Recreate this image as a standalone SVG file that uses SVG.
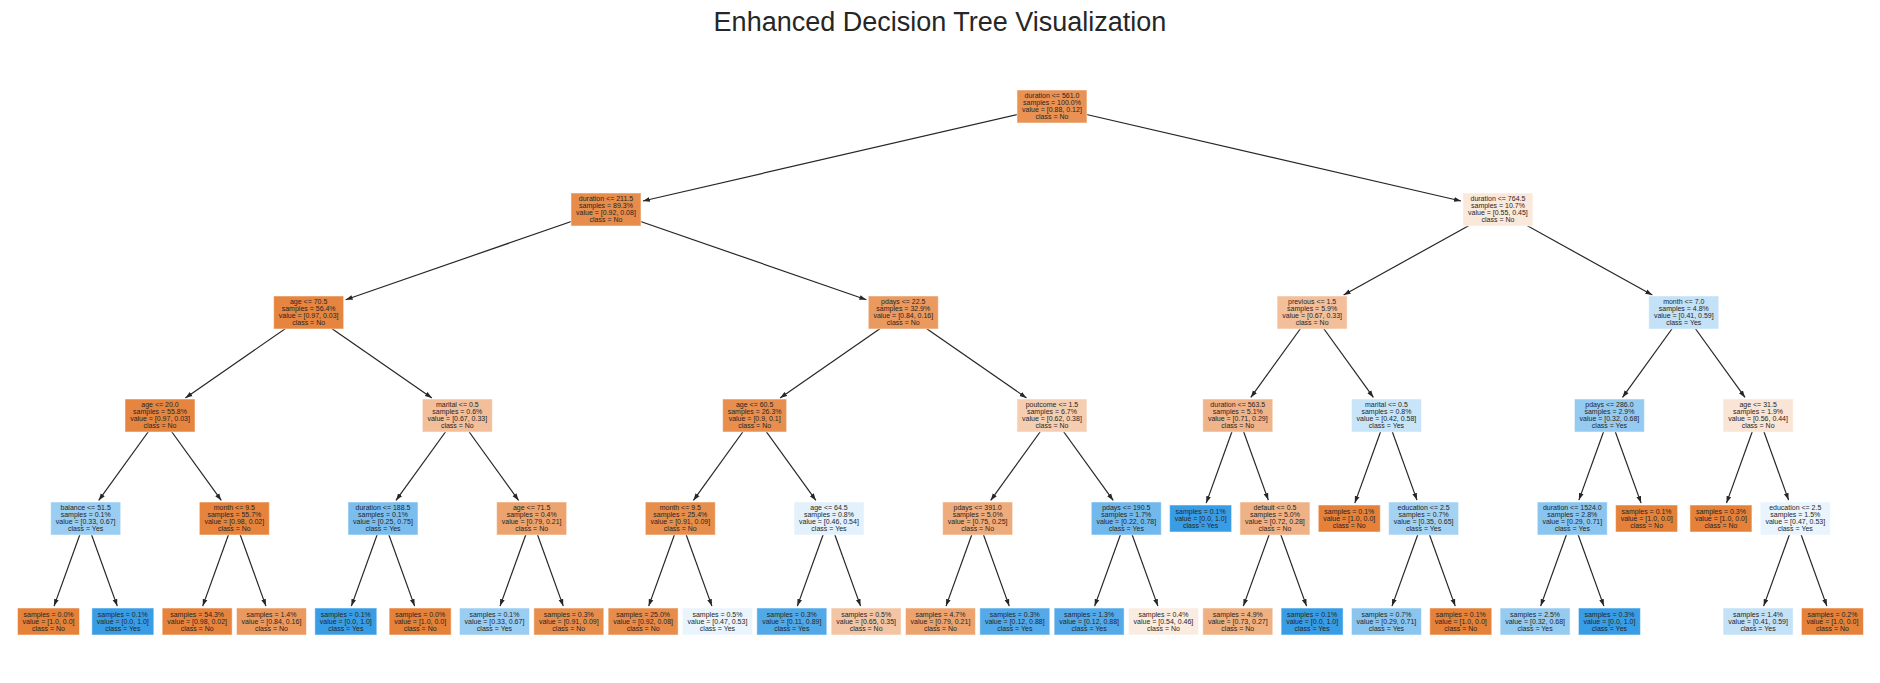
<svg xmlns="http://www.w3.org/2000/svg" width="1880" height="683" viewBox="0 0 1880 683">
<style>
.t{font-family:"Liberation Sans",Arial,sans-serif;font-size:7px;fill:#262626;text-anchor:middle}
.title{font-family:"Liberation Sans",Arial,sans-serif;font-size:27px;fill:#262626;text-anchor:middle}
.b{stroke:#ffffff;stroke-opacity:0.5;stroke-width:1}
.e line{stroke:#262626;stroke-width:1.2;marker-end:url(#ah)}
</style>
<defs>
<marker id="ah" markerUnits="userSpaceOnUse" markerWidth="8" markerHeight="6" refX="7" refY="3" orient="auto"><path d="M0,0.6 L7,3 L0,5.4 z" fill="#262626"/></marker>
</defs>
<rect width="1880" height="683" fill="#ffffff"/>
<text class="title" x="940" y="31">Enhanced Decision Tree Visualization</text>
<g id="connectors" class="e">
<line x1="1051.96" y1="106.5" x2="642.9" y2="201.0"/>
<line x1="1051.96" y1="106.5" x2="1461.0" y2="201.0"/>
<line x1="605.98" y1="209.5" x2="345.6" y2="299.7"/>
<line x1="605.98" y1="209.5" x2="866.4" y2="299.7"/>
<line x1="1497.94" y1="209.5" x2="1343.6" y2="295.0"/>
<line x1="1497.94" y1="209.5" x2="1652.3" y2="295.0"/>
<line x1="308.66" y1="312.5" x2="185.4" y2="397.9"/>
<line x1="308.66" y1="312.5" x2="431.9" y2="397.9"/>
<line x1="903.3" y1="312.5" x2="780.1" y2="397.9"/>
<line x1="903.3" y1="312.5" x2="1026.5" y2="397.9"/>
<line x1="1312.11" y1="312.5" x2="1250.8" y2="397.4"/>
<line x1="1312.11" y1="312.5" x2="1373.4" y2="397.4"/>
<line x1="1683.76" y1="312.5" x2="1622.5" y2="397.4"/>
<line x1="1683.76" y1="312.5" x2="1745.0" y2="397.4"/>
<line x1="160" y1="415.5" x2="98.7" y2="500.4"/>
<line x1="160" y1="415.5" x2="221.3" y2="500.4"/>
<line x1="457.32" y1="415.5" x2="396.0" y2="500.4"/>
<line x1="457.32" y1="415.5" x2="518.6" y2="500.4"/>
<line x1="754.64" y1="415.5" x2="693.4" y2="500.4"/>
<line x1="754.64" y1="415.5" x2="815.9" y2="500.4"/>
<line x1="1051.96" y1="415.5" x2="990.7" y2="500.4"/>
<line x1="1051.96" y1="415.5" x2="1113.2" y2="500.4"/>
<line x1="1237.78" y1="415.5" x2="1206.2" y2="503.1"/>
<line x1="1237.78" y1="415.5" x2="1268.3" y2="500.1"/>
<line x1="1386.44" y1="415.5" x2="1354.8" y2="503.1"/>
<line x1="1386.44" y1="415.5" x2="1417.0" y2="500.1"/>
<line x1="1609.43" y1="415.5" x2="1578.9" y2="500.1"/>
<line x1="1609.43" y1="415.5" x2="1641.1" y2="503.1"/>
<line x1="1758.09" y1="415.5" x2="1726.5" y2="503.1"/>
<line x1="1758.09" y1="415.5" x2="1788.6" y2="500.1"/>
<line x1="85.67" y1="518.5" x2="54.05" y2="606.1"/>
<line x1="85.67" y1="518.5" x2="117.28" y2="606.1"/>
<line x1="234.33" y1="518.5" x2="202.71" y2="606.1"/>
<line x1="234.33" y1="518.5" x2="265.94" y2="606.1"/>
<line x1="382.99" y1="518.5" x2="351.37" y2="606.1"/>
<line x1="382.99" y1="518.5" x2="414.6" y2="606.1"/>
<line x1="531.65" y1="518.5" x2="500.03" y2="606.1"/>
<line x1="531.65" y1="518.5" x2="563.26" y2="606.1"/>
<line x1="680.31" y1="518.5" x2="648.69" y2="606.1"/>
<line x1="680.31" y1="518.5" x2="711.92" y2="606.1"/>
<line x1="828.97" y1="518.5" x2="797.35" y2="606.1"/>
<line x1="828.97" y1="518.5" x2="860.58" y2="606.1"/>
<line x1="977.63" y1="518.5" x2="946.01" y2="606.1"/>
<line x1="977.63" y1="518.5" x2="1009.24" y2="606.1"/>
<line x1="1126.29" y1="518.5" x2="1094.67" y2="606.1"/>
<line x1="1126.29" y1="518.5" x2="1157.9" y2="606.1"/>
<line x1="1274.95" y1="518.5" x2="1243.33" y2="606.1"/>
<line x1="1274.95" y1="518.5" x2="1306.56" y2="606.1"/>
<line x1="1423.61" y1="518.5" x2="1391.99" y2="606.1"/>
<line x1="1423.61" y1="518.5" x2="1455.22" y2="606.1"/>
<line x1="1572.27" y1="518.5" x2="1540.65" y2="606.1"/>
<line x1="1572.27" y1="518.5" x2="1603.88" y2="606.1"/>
<line x1="1795.26" y1="518.5" x2="1763.64" y2="606.1"/>
<line x1="1795.26" y1="518.5" x2="1826.87" y2="606.1"/>
</g>
<g id="n0" transform="translate(1051.96,106.5)"><rect class="b" x="-35" y="-16.5" width="70" height="33" fill="#e99254"/><text class="t"><tspan x="0" y="-8.5">duration &lt;= 561.0</tspan><tspan x="0" y="-1.5">samples = 100.0%</tspan><tspan x="0" y="5.5">value = [0.88, 0.12]</tspan><tspan x="0" y="12.5">class = No</tspan></text></g>
<g id="n1" transform="translate(605.98,209.5)"><rect class="b" x="-35" y="-16.5" width="70" height="33" fill="#e78c4a"/><text class="t"><tspan x="0" y="-8.5">duration &lt;= 211.5</tspan><tspan x="0" y="-1.5">samples = 89.3%</tspan><tspan x="0" y="5.5">value = [0.92, 0.08]</tspan><tspan x="0" y="12.5">class = No</tspan></text></g>
<g id="n2" transform="translate(1497.94,209.5)"><rect class="b" x="-35" y="-16.5" width="70" height="33" fill="#fae8db"/><text class="t"><tspan x="0" y="-8.5">duration &lt;= 764.5</tspan><tspan x="0" y="-1.5">samples = 10.7%</tspan><tspan x="0" y="5.5">value = [0.55, 0.45]</tspan><tspan x="0" y="12.5">class = No</tspan></text></g>
<g id="n3" transform="translate(308.66,312.5)"><rect class="b" x="-35" y="-16.5" width="70" height="33" fill="#e6853f"/><text class="t"><tspan x="0" y="-8.5">age &lt;= 70.5</tspan><tspan x="0" y="-1.5">samples = 56.4%</tspan><tspan x="0" y="5.5">value = [0.97, 0.03]</tspan><tspan x="0" y="12.5">class = No</tspan></text></g>
<g id="n4" transform="translate(903.3,312.5)"><rect class="b" x="-35" y="-16.5" width="70" height="33" fill="#ea995f"/><text class="t"><tspan x="0" y="-8.5">pdays &lt;= 22.5</tspan><tspan x="0" y="-1.5">samples = 32.9%</tspan><tspan x="0" y="5.5">value = [0.84, 0.16]</tspan><tspan x="0" y="12.5">class = No</tspan></text></g>
<g id="n5" transform="translate(1312.11,312.5)"><rect class="b" x="-35" y="-16.5" width="70" height="33" fill="#f2bf9a"/><text class="t"><tspan x="0" y="-8.5">previous &lt;= 1.5</tspan><tspan x="0" y="-1.5">samples = 5.9%</tspan><tspan x="0" y="5.5">value = [0.67, 0.33]</tspan><tspan x="0" y="12.5">class = No</tspan></text></g>
<g id="n6" transform="translate(1683.76,312.5)"><rect class="b" x="-35" y="-16.5" width="70" height="33" fill="#c3e1f7"/><text class="t"><tspan x="0" y="-8.5">month &lt;= 7.0</tspan><tspan x="0" y="-1.5">samples = 4.8%</tspan><tspan x="0" y="5.5">value = [0.41, 0.59]</tspan><tspan x="0" y="12.5">class = Yes</tspan></text></g>
<g id="n7" transform="translate(160,415.5)"><rect class="b" x="-35" y="-16.5" width="70" height="33" fill="#e6853f"/><text class="t"><tspan x="0" y="-8.5">age &lt;= 20.0</tspan><tspan x="0" y="-1.5">samples = 55.8%</tspan><tspan x="0" y="5.5">value = [0.97, 0.03]</tspan><tspan x="0" y="12.5">class = No</tspan></text></g>
<g id="n8" transform="translate(457.32,415.5)"><rect class="b" x="-35" y="-16.5" width="70" height="33" fill="#f2bf9a"/><text class="t"><tspan x="0" y="-8.5">marital &lt;= 0.5</tspan><tspan x="0" y="-1.5">samples = 0.6%</tspan><tspan x="0" y="5.5">value = [0.67, 0.33]</tspan><tspan x="0" y="12.5">class = No</tspan></text></g>
<g id="n9" transform="translate(754.64,415.5)"><rect class="b" x="-32" y="-16.5" width="64" height="33" fill="#e88f4f"/><text class="t"><tspan x="0" y="-8.5">age &lt;= 60.5</tspan><tspan x="0" y="-1.5">samples = 26.3%</tspan><tspan x="0" y="5.5">value = [0.9, 0.1]</tspan><tspan x="0" y="12.5">class = No</tspan></text></g>
<g id="n10" transform="translate(1051.96,415.5)"><rect class="b" x="-35" y="-16.5" width="70" height="33" fill="#f5ceb2"/><text class="t"><tspan x="0" y="-8.5">poutcome &lt;= 1.5</tspan><tspan x="0" y="-1.5">samples = 6.7%</tspan><tspan x="0" y="5.5">value = [0.62, 0.38]</tspan><tspan x="0" y="12.5">class = No</tspan></text></g>
<g id="n11" transform="translate(1237.78,415.5)"><rect class="b" x="-35" y="-16.5" width="70" height="33" fill="#f0b48a"/><text class="t"><tspan x="0" y="-8.5">duration &lt;= 563.5</tspan><tspan x="0" y="-1.5">samples = 5.1%</tspan><tspan x="0" y="5.5">value = [0.71, 0.29]</tspan><tspan x="0" y="12.5">class = No</tspan></text></g>
<g id="n12" transform="translate(1386.44,415.5)"><rect class="b" x="-35" y="-16.5" width="70" height="33" fill="#c8e4f8"/><text class="t"><tspan x="0" y="-8.5">marital &lt;= 0.5</tspan><tspan x="0" y="-1.5">samples = 0.8%</tspan><tspan x="0" y="5.5">value = [0.42, 0.58]</tspan><tspan x="0" y="12.5">class = Yes</tspan></text></g>
<g id="n13" transform="translate(1609.43,415.5)"><rect class="b" x="-35" y="-16.5" width="70" height="33" fill="#96cbf1"/><text class="t"><tspan x="0" y="-8.5">pdays &lt;= 286.0</tspan><tspan x="0" y="-1.5">samples = 2.9%</tspan><tspan x="0" y="5.5">value = [0.32, 0.68]</tspan><tspan x="0" y="12.5">class = Yes</tspan></text></g>
<g id="n14" transform="translate(1758.09,415.5)"><rect class="b" x="-35" y="-16.5" width="70" height="33" fill="#f9e4d5"/><text class="t"><tspan x="0" y="-8.5">age &lt;= 31.5</tspan><tspan x="0" y="-1.5">samples = 1.9%</tspan><tspan x="0" y="5.5">value = [0.56, 0.44]</tspan><tspan x="0" y="12.5">class = No</tspan></text></g>
<g id="n15" transform="translate(85.67,518.5)"><rect class="b" x="-35" y="-16.5" width="70" height="33" fill="#9acdf2"/><text class="t"><tspan x="0" y="-8.5">balance &lt;= 51.5</tspan><tspan x="0" y="-1.5">samples = 0.1%</tspan><tspan x="0" y="5.5">value = [0.33, 0.67]</tspan><tspan x="0" y="12.5">class = Yes</tspan></text></g>
<g id="n16" transform="translate(234.33,518.5)"><rect class="b" x="-35" y="-16.5" width="70" height="33" fill="#e6843d"/><text class="t"><tspan x="0" y="-8.5">month &lt;= 9.5</tspan><tspan x="0" y="-1.5">samples = 55.7%</tspan><tspan x="0" y="5.5">value = [0.98, 0.02]</tspan><tspan x="0" y="12.5">class = No</tspan></text></g>
<g id="n17" transform="translate(382.99,518.5)"><rect class="b" x="-35" y="-16.5" width="70" height="33" fill="#7bbeee"/><text class="t"><tspan x="0" y="-8.5">duration &lt;= 188.5</tspan><tspan x="0" y="-1.5">samples = 0.1%</tspan><tspan x="0" y="5.5">value = [0.25, 0.75]</tspan><tspan x="0" y="12.5">class = Yes</tspan></text></g>
<g id="n18" transform="translate(531.65,518.5)"><rect class="b" x="-35" y="-16.5" width="70" height="33" fill="#eca36e"/><text class="t"><tspan x="0" y="-8.5">age &lt;= 71.5</tspan><tspan x="0" y="-1.5">samples = 0.4%</tspan><tspan x="0" y="5.5">value = [0.79, 0.21]</tspan><tspan x="0" y="12.5">class = No</tspan></text></g>
<g id="n19" transform="translate(680.31,518.5)"><rect class="b" x="-35" y="-16.5" width="70" height="33" fill="#e88e4d"/><text class="t"><tspan x="0" y="-8.5">month &lt;= 9.5</tspan><tspan x="0" y="-1.5">samples = 25.4%</tspan><tspan x="0" y="5.5">value = [0.91, 0.09]</tspan><tspan x="0" y="12.5">class = No</tspan></text></g>
<g id="n20" transform="translate(828.97,518.5)"><rect class="b" x="-35" y="-16.5" width="70" height="33" fill="#e2f1fb"/><text class="t"><tspan x="0" y="-8.5">age &lt;= 64.5</tspan><tspan x="0" y="-1.5">samples = 0.8%</tspan><tspan x="0" y="5.5">value = [0.46, 0.54]</tspan><tspan x="0" y="12.5">class = Yes</tspan></text></g>
<g id="n21" transform="translate(977.63,518.5)"><rect class="b" x="-35" y="-16.5" width="70" height="33" fill="#eeab7b"/><text class="t"><tspan x="0" y="-8.5">pdays &lt;= 391.0</tspan><tspan x="0" y="-1.5">samples = 5.0%</tspan><tspan x="0" y="5.5">value = [0.75, 0.25]</tspan><tspan x="0" y="12.5">class = No</tspan></text></g>
<g id="n22" transform="translate(1126.29,518.5)"><rect class="b" x="-35" y="-16.5" width="70" height="33" fill="#71b9ec"/><text class="t"><tspan x="0" y="-8.5">pdays &lt;= 190.5</tspan><tspan x="0" y="-1.5">samples = 1.7%</tspan><tspan x="0" y="5.5">value = [0.22, 0.78]</tspan><tspan x="0" y="12.5">class = Yes</tspan></text></g>
<g id="n23" transform="translate(1200.62,518.5)"><rect class="b" x="-31" y="-13.5" width="62" height="27" fill="#399de5"/><text class="t"><tspan x="0" y="-5">samples = 0.1%</tspan><tspan x="0" y="2">value = [0.0, 1.0]</tspan><tspan x="0" y="9">class = Yes</tspan></text></g>
<g id="n24" transform="translate(1274.95,518.5)"><rect class="b" x="-35" y="-16.5" width="70" height="33" fill="#efb286"/><text class="t"><tspan x="0" y="-8.5">default &lt;= 0.5</tspan><tspan x="0" y="-1.5">samples = 5.0%</tspan><tspan x="0" y="5.5">value = [0.72, 0.28]</tspan><tspan x="0" y="12.5">class = No</tspan></text></g>
<g id="n25" transform="translate(1349.28,518.5)"><rect class="b" x="-31" y="-13.5" width="62" height="27" fill="#e58139"/><text class="t"><tspan x="0" y="-5">samples = 0.1%</tspan><tspan x="0" y="2">value = [1.0, 0.0]</tspan><tspan x="0" y="9">class = No</tspan></text></g>
<g id="n26" transform="translate(1423.61,518.5)"><rect class="b" x="-35" y="-16.5" width="70" height="33" fill="#a4d2f3"/><text class="t"><tspan x="0" y="-8.5">education &lt;= 2.5</tspan><tspan x="0" y="-1.5">samples = 0.7%</tspan><tspan x="0" y="5.5">value = [0.35, 0.65]</tspan><tspan x="0" y="12.5">class = Yes</tspan></text></g>
<g id="n27" transform="translate(1572.27,518.5)"><rect class="b" x="-35" y="-16.5" width="70" height="33" fill="#8ac5f0"/><text class="t"><tspan x="0" y="-8.5">duration &lt;= 1524.0</tspan><tspan x="0" y="-1.5">samples = 2.8%</tspan><tspan x="0" y="5.5">value = [0.29, 0.71]</tspan><tspan x="0" y="12.5">class = Yes</tspan></text></g>
<g id="n28" transform="translate(1646.6,518.5)"><rect class="b" x="-31" y="-13.5" width="62" height="27" fill="#e58139"/><text class="t"><tspan x="0" y="-5">samples = 0.1%</tspan><tspan x="0" y="2">value = [1.0, 0.0]</tspan><tspan x="0" y="9">class = No</tspan></text></g>
<g id="n29" transform="translate(1720.93,518.5)"><rect class="b" x="-31" y="-13.5" width="62" height="27" fill="#e58139"/><text class="t"><tspan x="0" y="-5">samples = 0.3%</tspan><tspan x="0" y="2">value = [1.0, 0.0]</tspan><tspan x="0" y="9">class = No</tspan></text></g>
<g id="n30" transform="translate(1795.26,518.5)"><rect class="b" x="-35" y="-16.5" width="70" height="33" fill="#e9f4fc"/><text class="t"><tspan x="0" y="-8.5">education &lt;= 2.5</tspan><tspan x="0" y="-1.5">samples = 1.5%</tspan><tspan x="0" y="5.5">value = [0.47, 0.53]</tspan><tspan x="0" y="12.5">class = Yes</tspan></text></g>
<g id="l1" transform="translate(48.5,621.5)"><rect class="b" x="-31" y="-13.5" width="62" height="27" fill="#e58139"/><text class="t"><tspan x="0" y="-5">samples = 0.0%</tspan><tspan x="0" y="2">value = [1.0, 0.0]</tspan><tspan x="0" y="9">class = No</tspan></text></g>
<g id="l2" transform="translate(122.83,621.5)"><rect class="b" x="-31" y="-13.5" width="62" height="27" fill="#399de5"/><text class="t"><tspan x="0" y="-5">samples = 0.1%</tspan><tspan x="0" y="2">value = [0.0, 1.0]</tspan><tspan x="0" y="9">class = Yes</tspan></text></g>
<g id="l3" transform="translate(197.16,621.5)"><rect class="b" x="-35" y="-13.5" width="70" height="27" fill="#e6843d"/><text class="t"><tspan x="0" y="-5">samples = 54.3%</tspan><tspan x="0" y="2">value = [0.98, 0.02]</tspan><tspan x="0" y="9">class = No</tspan></text></g>
<g id="l4" transform="translate(271.49,621.5)"><rect class="b" x="-35" y="-13.5" width="70" height="27" fill="#ea995f"/><text class="t"><tspan x="0" y="-5">samples = 1.4%</tspan><tspan x="0" y="2">value = [0.84, 0.16]</tspan><tspan x="0" y="9">class = No</tspan></text></g>
<g id="l5" transform="translate(345.82,621.5)"><rect class="b" x="-31" y="-13.5" width="62" height="27" fill="#399de5"/><text class="t"><tspan x="0" y="-5">samples = 0.1%</tspan><tspan x="0" y="2">value = [0.0, 1.0]</tspan><tspan x="0" y="9">class = Yes</tspan></text></g>
<g id="l6" transform="translate(420.15,621.5)"><rect class="b" x="-31" y="-13.5" width="62" height="27" fill="#e58139"/><text class="t"><tspan x="0" y="-5">samples = 0.0%</tspan><tspan x="0" y="2">value = [1.0, 0.0]</tspan><tspan x="0" y="9">class = No</tspan></text></g>
<g id="l7" transform="translate(494.48,621.5)"><rect class="b" x="-35" y="-13.5" width="70" height="27" fill="#9acdf2"/><text class="t"><tspan x="0" y="-5">samples = 0.1%</tspan><tspan x="0" y="2">value = [0.33, 0.67]</tspan><tspan x="0" y="9">class = Yes</tspan></text></g>
<g id="l8" transform="translate(568.81,621.5)"><rect class="b" x="-35" y="-13.5" width="70" height="27" fill="#e88e4d"/><text class="t"><tspan x="0" y="-5">samples = 0.3%</tspan><tspan x="0" y="2">value = [0.91, 0.09]</tspan><tspan x="0" y="9">class = No</tspan></text></g>
<g id="l9" transform="translate(643.14,621.5)"><rect class="b" x="-35" y="-13.5" width="70" height="27" fill="#e78c4a"/><text class="t"><tspan x="0" y="-5">samples = 25.0%</tspan><tspan x="0" y="2">value = [0.92, 0.08]</tspan><tspan x="0" y="9">class = No</tspan></text></g>
<g id="l10" transform="translate(717.47,621.5)"><rect class="b" x="-35" y="-13.5" width="70" height="27" fill="#e9f4fc"/><text class="t"><tspan x="0" y="-5">samples = 0.5%</tspan><tspan x="0" y="2">value = [0.47, 0.53]</tspan><tspan x="0" y="9">class = Yes</tspan></text></g>
<g id="l11" transform="translate(791.8,621.5)"><rect class="b" x="-35" y="-13.5" width="70" height="27" fill="#51a9e8"/><text class="t"><tspan x="0" y="-5">samples = 0.3%</tspan><tspan x="0" y="2">value = [0.11, 0.89]</tspan><tspan x="0" y="9">class = Yes</tspan></text></g>
<g id="l12" transform="translate(866.13,621.5)"><rect class="b" x="-35" y="-13.5" width="70" height="27" fill="#f3c5a4"/><text class="t"><tspan x="0" y="-5">samples = 0.5%</tspan><tspan x="0" y="2">value = [0.65, 0.35]</tspan><tspan x="0" y="9">class = No</tspan></text></g>
<g id="l13" transform="translate(940.46,621.5)"><rect class="b" x="-35" y="-13.5" width="70" height="27" fill="#eca36e"/><text class="t"><tspan x="0" y="-5">samples = 4.7%</tspan><tspan x="0" y="2">value = [0.79, 0.21]</tspan><tspan x="0" y="9">class = No</tspan></text></g>
<g id="l14" transform="translate(1014.79,621.5)"><rect class="b" x="-35" y="-13.5" width="70" height="27" fill="#54aae8"/><text class="t"><tspan x="0" y="-5">samples = 0.3%</tspan><tspan x="0" y="2">value = [0.12, 0.88]</tspan><tspan x="0" y="9">class = Yes</tspan></text></g>
<g id="l15" transform="translate(1089.12,621.5)"><rect class="b" x="-35" y="-13.5" width="70" height="27" fill="#54aae8"/><text class="t"><tspan x="0" y="-5">samples = 1.3%</tspan><tspan x="0" y="2">value = [0.12, 0.88]</tspan><tspan x="0" y="9">class = Yes</tspan></text></g>
<g id="l16" transform="translate(1163.45,621.5)"><rect class="b" x="-35" y="-13.5" width="70" height="27" fill="#fbece2"/><text class="t"><tspan x="0" y="-5">samples = 0.4%</tspan><tspan x="0" y="2">value = [0.54, 0.46]</tspan><tspan x="0" y="9">class = No</tspan></text></g>
<g id="l17" transform="translate(1237.78,621.5)"><rect class="b" x="-35" y="-13.5" width="70" height="27" fill="#efb082"/><text class="t"><tspan x="0" y="-5">samples = 4.9%</tspan><tspan x="0" y="2">value = [0.73, 0.27]</tspan><tspan x="0" y="9">class = No</tspan></text></g>
<g id="l18" transform="translate(1312.11,621.5)"><rect class="b" x="-31" y="-13.5" width="62" height="27" fill="#399de5"/><text class="t"><tspan x="0" y="-5">samples = 0.1%</tspan><tspan x="0" y="2">value = [0.0, 1.0]</tspan><tspan x="0" y="9">class = Yes</tspan></text></g>
<g id="l19" transform="translate(1386.44,621.5)"><rect class="b" x="-35" y="-13.5" width="70" height="27" fill="#8ac5f0"/><text class="t"><tspan x="0" y="-5">samples = 0.7%</tspan><tspan x="0" y="2">value = [0.29, 0.71]</tspan><tspan x="0" y="9">class = Yes</tspan></text></g>
<g id="l20" transform="translate(1460.77,621.5)"><rect class="b" x="-31" y="-13.5" width="62" height="27" fill="#e58139"/><text class="t"><tspan x="0" y="-5">samples = 0.1%</tspan><tspan x="0" y="2">value = [1.0, 0.0]</tspan><tspan x="0" y="9">class = No</tspan></text></g>
<g id="l21" transform="translate(1535.1,621.5)"><rect class="b" x="-35" y="-13.5" width="70" height="27" fill="#96cbf1"/><text class="t"><tspan x="0" y="-5">samples = 2.5%</tspan><tspan x="0" y="2">value = [0.32, 0.68]</tspan><tspan x="0" y="9">class = Yes</tspan></text></g>
<g id="l22" transform="translate(1609.43,621.5)"><rect class="b" x="-31" y="-13.5" width="62" height="27" fill="#399de5"/><text class="t"><tspan x="0" y="-5">samples = 0.3%</tspan><tspan x="0" y="2">value = [0.0, 1.0]</tspan><tspan x="0" y="9">class = Yes</tspan></text></g>
<g id="l23" transform="translate(1758.09,621.5)"><rect class="b" x="-35" y="-13.5" width="70" height="27" fill="#c3e1f7"/><text class="t"><tspan x="0" y="-5">samples = 1.4%</tspan><tspan x="0" y="2">value = [0.41, 0.59]</tspan><tspan x="0" y="9">class = Yes</tspan></text></g>
<g id="l24" transform="translate(1832.42,621.5)"><rect class="b" x="-31" y="-13.5" width="62" height="27" fill="#e58139"/><text class="t"><tspan x="0" y="-5">samples = 0.2%</tspan><tspan x="0" y="2">value = [1.0, 0.0]</tspan><tspan x="0" y="9">class = No</tspan></text></g>
</svg>
